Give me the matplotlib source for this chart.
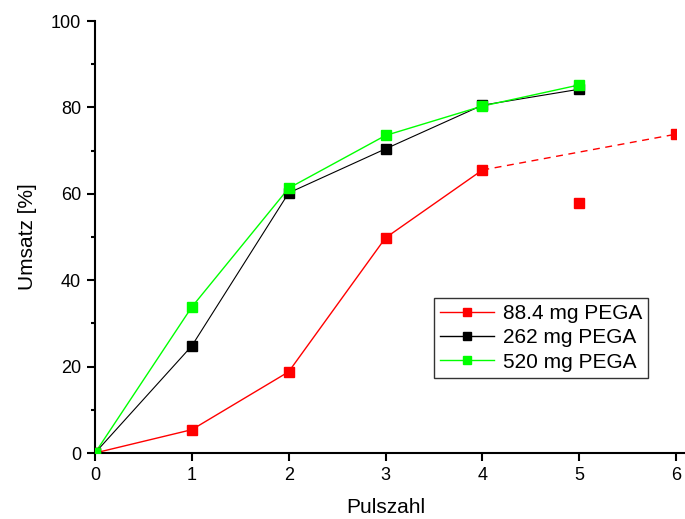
import numpy as np, matplotlib; matplotlib.use("Agg")
import matplotlib.pyplot as plt
from matplotlib.lines import Line2D
plt.rcParams.update({"font.family":["Liberation Sans","DejaVu Sans"],"font.size":13})

# data
puls_red=[0,1,2,3,4,5,6]; red=[0,5.4,18.8,49.8,65.5,57.9,73.8]
puls=[0,1,2,3,4,5]
black=[0,24.8,60.2,70.4,80.5,84.2]
green=[0,33.8,61.3,73.5,80.3,85.2]
labels=["88.4 mg PEGA","262 mg PEGA","520 mg PEGA"]
RED,BLK,GRN="#ff0000","#000000","#00ff00"

fig=plt.figure(figsize=(6.85,5.19),dpi=100)
ax=fig.add_axes([95/685,1-453/519,581/685,432/519])
ax.plot(puls_red[:5],red[:5],'-',color=RED,lw=1)
ax.plot([puls_red[4],puls_red[6]],[red[4],red[6]],'--',color=RED,lw=1,dashes=(5,4))
ax.plot(puls,black,'-',color=BLK,lw=0.8)
ax.plot(puls,green,'-',color=GRN,lw=1)
ms=7.5
ax.plot(puls_red,red,'s',color=RED,ms=ms,ls='none',zorder=5)
ax.plot(puls,black,'s',color=BLK,ms=ms,ls='none',zorder=5)
ax.plot(puls,green,'s',color=GRN,ms=ms,ls='none',zorder=6)

ax.set_xlim(0,6); ax.set_ylim(0,100)
ax.set_xticks(range(7)); ax.set_yticks(range(0,101,20))
ax.set_yticks(range(10,100,20),minor=True)
for s in ["top","right"]: ax.spines[s].set_visible(False)
ax.spines["left"].set_linewidth(1.5); ax.spines["bottom"].set_linewidth(1.5)
ax.spines["bottom"].set_bounds(0,6.1)
ax.tick_params(direction='out',width=1.5,length=6,labelsize=13,pad=4)
ax.tick_params(which='minor',direction='out',width=1.5,length=3)
ax.set_xlabel("Pulszahl",fontsize=15,labelpad=10)
ax.set_ylabel("Umsatz [%]",fontsize=15,labelpad=10)

handles=[Line2D([],[],color=c,lw=1,marker='s',ms=6) for c in (RED,BLK,GRN)]
leg=ax.legend(handles,labels,loc='lower right',bbox_to_anchor=(0.952,0.174),fontsize=15,
              frameon=True,fancybox=False,edgecolor='black',handlelength=2.6,
              handletextpad=0.4,borderpad=0.3,labelspacing=0.25,borderaxespad=0)
leg.get_frame().set_linewidth(1.0)
fig.savefig("out.png",dpi=100)
